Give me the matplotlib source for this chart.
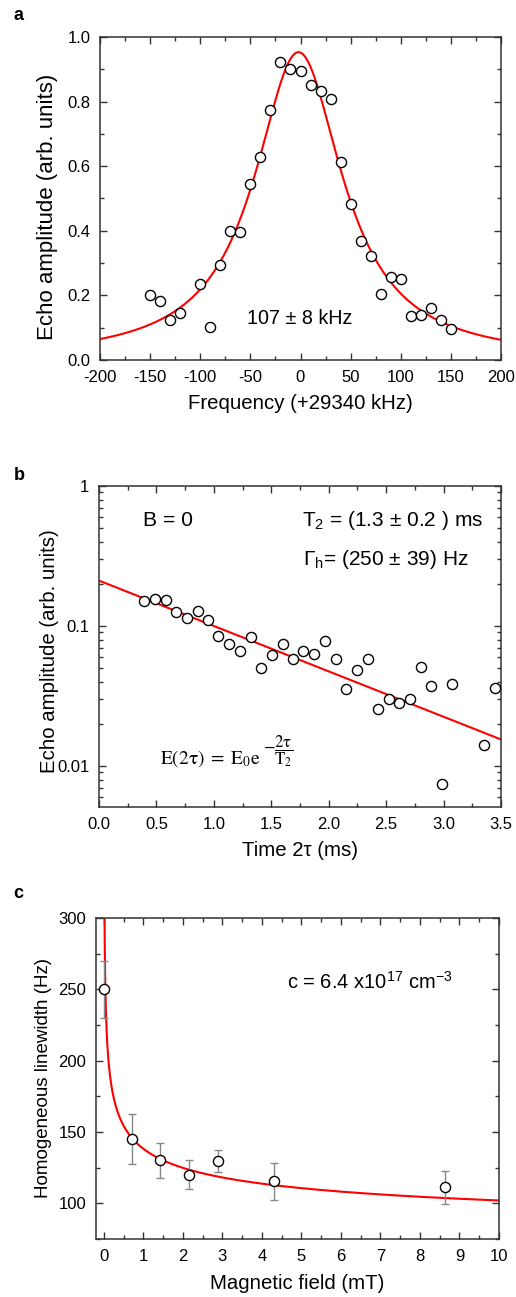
import numpy as np
import matplotlib
matplotlib.use("Agg")
import matplotlib.pyplot as plt
from matplotlib.ticker import MultipleLocator, LogLocator, NullFormatter, FixedLocator, FixedFormatter

plt.rcParams['font.family'] = ['Liberation Sans', 'DejaVu Sans']
plt.rcParams['mathtext.fontset'] = 'custom'
plt.rcParams['mathtext.rm'] = 'Liberation Sans'
plt.rcParams['mathtext.it'] = 'Liberation Sans:italic'
plt.rcParams['axes.unicode_minus'] = False

# panel a: echo amplitude vs frequency offset
freq = [-150, -140, -130, -120, -100, -90, -80, -70, -60, -50, -40, -30, -20, -10, 0,
        10, 20, 30, 40, 50, 60, 70, 80, 90, 100, 110, 120, 130, 140, 150]
echo_a = [0.200, 0.183, 0.124, 0.147, 0.236, 0.103, 0.294, 0.398, 0.395, 0.546, 0.629, 0.773,
          0.923, 0.902, 0.895, 0.851, 0.834, 0.808, 0.614, 0.484, 0.368, 0.322, 0.204, 0.258,
          0.251, 0.135, 0.138, 0.161, 0.125, 0.096]
lor_amp, lor_center, lor_fwhm = 0.953, -2.0, 107.0

# panel b: echo decay
time_2tau = [0.39, 0.487, 0.58, 0.673, 0.766, 0.859, 0.951, 1.04, 1.134, 1.224, 1.32, 1.413,
             1.506, 1.599, 1.69, 1.78, 1.874, 1.967, 2.06, 2.152, 2.245, 2.338, 2.425, 2.521,
             2.614, 2.707, 2.8, 2.892, 2.983, 3.072, 3.35, 3.45]
echo_b = [0.150, 0.156, 0.154, 0.125, 0.114, 0.129, 0.111, 0.085, 0.0746, 0.066, 0.083, 0.0503,
          0.0626, 0.075, 0.0583, 0.0658, 0.0633, 0.0784, 0.0577, 0.0354, 0.0482, 0.058, 0.0254,
          0.0299, 0.028, 0.0299, 0.0506, 0.0374, 0.00749, 0.0387, 0.0142, 0.036]
E0, T2 = 0.211, 1.34

# panel c: homogeneous linewidth vs field
field = [0.015, 0.717, 1.43, 2.15, 2.876, 4.31, 8.64]
linewidth = [250.0, 145.1, 130.2, 120.1, 129.7, 115.4, 111.2]
lw_err = [20.0, 17.8, 12.4, 10.0, 8.0, 13.0, 11.4]
fit_base, fit_k, fit_p = 60.0, 78.2, 0.27

W, H = 516, 1297
fig = plt.figure(figsize=(W / 100, H / 100), dpi=100)

def px_axes(x0, y0, x1, y1):
    return fig.add_axes([x0 / W, 1 - y1 / H, (x1 - x0) / W, (y1 - y0) / H])

def style(ax):
    for s in ax.spines.values():
        s.set_linewidth(1.1)
        s.set_color('#333333')
    ax.tick_params(which='both', direction='in', top=True, right=True, labelsize=12,
                   color='#333333', width=1.0)
    ax.tick_params(which='major', length=5, pad=7)
    ax.tick_params(which='minor', length=3)

def labels(ax, xl, xpos, yl, ypos, xsize=14.7, ysize=14.7):
    ax.set_xlabel(xl, fontsize=xsize, va='center')
    ax.xaxis.set_label_coords(0.5, xpos)
    ax.set_ylabel(yl, fontsize=ysize, va='center')
    ax.yaxis.set_label_coords(*ypos)

def ftext(x, y, s, **kw):
    fig.text(x / W, 1 - y / H, s, **kw)

mk = dict(marker='o', ms=7.3, mfc='white', mec='black', mew=1.0, ls='none', zorder=3)

# ---- a
ax = px_axes(100, 37, 501, 360)
xf = np.linspace(-200, 200, 600)
ax.plot(xf, lor_amp / (1 + (2 * (xf - lor_center) / lor_fwhm) ** 2), color='red', lw=1.5)
ax.plot(freq, echo_a, **mk)
ax.set_xlim(-200, 200)
ax.set_ylim(0, 1.0)
ax.xaxis.set_major_locator(MultipleLocator(50))
ax.xaxis.set_minor_locator(MultipleLocator(25))
ax.yaxis.set_major_locator(MultipleLocator(0.2))
ax.yaxis.set_minor_locator(MultipleLocator(0.1))
ax.yaxis.set_major_formatter(plt.FormatStrFormatter('%.1f'))
style(ax)
labels(ax, 'Frequency (+29340 kHz)', -0.136, 'Echo amplitude (arb. units)', (-0.132, 0.474),
       ysize=16)
ax.text(-0.5, 0.13, '107 ± 8 kHz', fontsize=14.2, ha='center', va='center')
ftext(18, 15, 'a', fontsize=13, fontweight='bold', ha='center', va='center')

# ---- b
ax = px_axes(99, 486, 501, 807)
xt = np.linspace(0, 3.5, 200)
ax.plot(xt, E0 * np.exp(-xt / T2), color='red', lw=1.5)
ax.plot(time_2tau, echo_b, **mk)
ax.set_yscale('log')
ax.set_xlim(0, 3.5)
ax.set_ylim(0.0051, 1.0)
ax.xaxis.set_major_locator(MultipleLocator(0.5))
ax.xaxis.set_minor_locator(MultipleLocator(0.25))
ax.xaxis.set_major_formatter(plt.FormatStrFormatter('%.1f'))
ax.yaxis.set_major_locator(FixedLocator([0.01, 0.1, 1]))
ax.yaxis.set_major_formatter(FixedFormatter(['0.01', '0.1', '1']))
ax.yaxis.set_minor_locator(LogLocator(base=10, subs=np.arange(2, 10)))
ax.yaxis.set_minor_formatter(NullFormatter())
style(ax)
labels(ax, 'Time 2τ (ms)', -0.1355, 'Echo amplitude (arb. units)', (-0.122, 0.486))
ftext(143, 521, 'B = 0', fontsize=15.2, ha='left', va='center')
ftext(302, 520, 'T$_2$ = (1.3 ± 0.2 ) ms', fontsize=15, ha='left', va='center')
ftext(303, 559, 'Γ$_\\mathregular{h}$= (250 ± 39) Hz', fontsize=15, ha='left', va='center')
ftext(160, 759, r'$\mathrm{E(2\tau)\;=\;E_0e}$', fontsize=14,
      ha='left', va='center', math_fontfamily='stix')
ftext(263, 751, r'$-\dfrac{\mathrm{2\tau}}{\mathrm{T_2}}$', fontsize=12,
      ha='left', va='center', math_fontfamily='stix')
ftext(19, 476, 'b', fontsize=13, fontweight='bold', ha='center', va='center')

# ---- c
ax = px_axes(96, 918, 499, 1239)
xb = np.linspace(0.01, 10, 1000)
ax.plot(xb, fit_base + fit_k * xb ** (-fit_p), color='red', lw=1.5)
ax.errorbar(field, linewidth, yerr=lw_err, fmt='none', ecolor='#888888', elinewidth=1.0,
            capsize=3, capthick=1.0, zorder=2)
ax.plot(field, linewidth, **mk)
ax.set_xlim(-0.2, 10)
ax.set_ylim(75, 300)
ax.xaxis.set_major_locator(MultipleLocator(1))
ax.xaxis.set_minor_locator(MultipleLocator(0.5))
ax.yaxis.set_major_locator(MultipleLocator(50))
ax.yaxis.set_minor_locator(MultipleLocator(25))
style(ax)
labels(ax, 'Magnetic field (mT)', -0.139, 'Homogeneous linewidth (Hz)', (-0.130, 0.503),
       ysize=13.5)
ftext(287, 982, 'c = 6.4 x10$^{17}$ cm$^{-3}$', fontsize=14.5, ha='left', va='center')
ftext(18, 893, 'c', fontsize=13, fontweight='bold', ha='center', va='center')

fig.savefig('out.png', dpi=100)
